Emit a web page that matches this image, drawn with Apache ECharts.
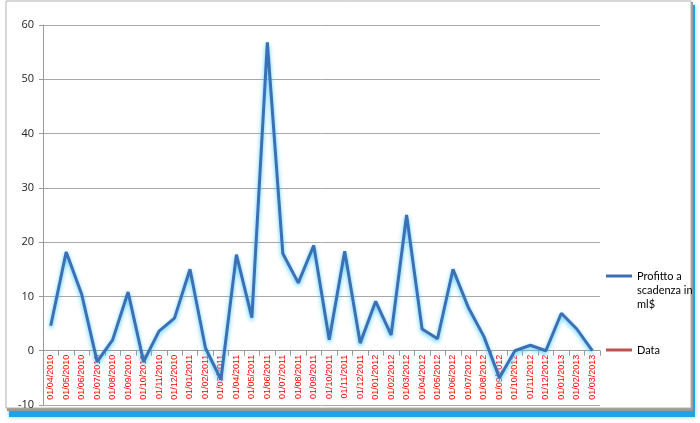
<!DOCTYPE html>
<html>
<head>
<meta charset="utf-8">
<script src="https://cdn.jsdelivr.net/npm/echarts@6/dist/echarts.min.js"></script>
<style>html,body{margin:0;padding:0;background:#fff}#c{width:700px;height:423px}</style>
</head>
<body>
<div id="c"></div>
<script>
var categories = ['01/04/2010','01/05/2010','01/06/2010','01/07/2010','01/08/2010','01/09/2010','01/10/2010','01/11/2010','01/12/2010',
  '01/01/2011','01/02/2011','01/03/2011','01/04/2011','01/05/2011','01/06/2011','01/07/2011','01/08/2011','01/09/2011','01/10/2011','01/11/2011','01/12/2011',
  '01/01/2012','01/02/2012','01/03/2012','01/04/2012','01/05/2012','01/06/2012','01/07/2012','01/08/2012','01/09/2012','01/10/2012','01/11/2012','01/12/2012',
  '01/01/2013','01/02/2013','01/03/2013'];
var profitto = [4.6, 18.2, 10.4, -2, 2.0, 10.8, -2, 3.6, 6.0,
  15.0, 0.5, -5.3, 17.7, 6.1, 56.8, 17.9, 12.5, 19.4, 2.0, 18.3, 1.4,
  9.1, 2.9, 25.0, 4.0, 2.2, 15.0, 7.9, 2.6, -5.0, 0.0, 1.0, 0.0,
  6.9, 4.0, 0.0];
var dataSeries = [];
var yTicks = {min: -10, max: 60, interval: 10};
var nameProfit = 'Profitto a scadenza in ml$';
var nameData = 'Data';

var gridTop = 25, gridBottom = 18, H = 423;
var plotH = H - gridTop - gridBottom;
// distance from bottom edge of plot to the zero line (axis crosses at 0, as in Excel)
var zeroOffset = plotH * (0 - yTicks.min) / (yTicks.max - yTicks.min);

var chart = echarts.init(document.getElementById('c'), null, {renderer: 'canvas'});
chart.setOption({
  animation: false,
  backgroundColor: '#fff',
  graphic: [
    {type: 'rect', z: -10, shape: {x: 9, y: 5, width: 686, height: 412},
      style: {fill: '#1ea2ea', shadowColor: 'rgba(30,162,234,0.6)', shadowBlur: 4}},
    {type: 'rect', z: -9, shape: {x: 7, y: 2, width: 686, height: 409},
      style: {fill: '#9a9a9a'}},
    {type: 'rect', z: -8, shape: {x: 6, y: 1, width: 685, height: 407},
      style: {fill: '#fff', stroke: '#b0b0b0', lineWidth: 1}}
  ],
  grid: {left: 43, right: 100, top: gridTop, bottom: gridBottom, containLabel: false, outerBoundsMode: 'none'},
  legend: [
    {data: [nameProfit], left: 606, top: 241, padding: 0, orient: 'vertical', itemWidth: 26, itemHeight: 3, itemGap: 0,
      icon: 'rect', selectedMode: false,
      formatter: function () { return '\n\nProfitto a\nscadenza in\nml$'; },
      textStyle: {fontFamily: 'Lato', fontSize: 11, color: '#000', lineHeight: 14}},
    {data: [nameData], left: 606, top: 343, padding: 0, orient: 'vertical', itemWidth: 26, itemHeight: 3,
      icon: 'rect', selectedMode: false,
      textStyle: {fontFamily: 'Lato', fontSize: 11, color: '#000', lineHeight: 14}}
  ],
  xAxis: {
    type: 'category', data: categories, boundaryGap: true,
    offset: -zeroOffset,
    axisLine: {onZero: false, lineStyle: {color: '#9a9a9a', width: 1}},
    axisTick: {show: true, length: 5, lineStyle: {color: '#9a9a9a'}},
    axisLabel: {rotate: 90, interval: 0, color: '#ff0000', fontSize: 9, fontFamily: 'Liberation Sans', margin: 4},
    splitLine: {show: false}
  },
  yAxis: {
    type: 'value', min: yTicks.min, max: yTicks.max, interval: yTicks.interval,
    axisLine: {show: true, lineStyle: {color: '#9a9a9a'}},
    axisTick: {show: true, length: 4, lineStyle: {color: '#9a9a9a'}},
    axisLabel: {color: '#222', fontSize: 11, fontFamily: 'Open Sans', margin: 9},
    splitLine: {lineStyle: {color: '#a8a8a8', width: 1}}
  },
  series: [
    {name: nameProfit, type: 'line', data: profitto, symbol: 'none', color: '#3c6fb4',
      lineStyle: {width: 3, color: '#3c6fb4', shadowColor: 'rgba(60,200,255,0.9)', shadowBlur: 4, shadowOffsetY: 2},
      z: 3},
    {name: nameData, type: 'line', data: dataSeries, symbol: 'none', color: '#c0504d',
      lineStyle: {width: 2, color: '#c0504d'}}
  ]
});
</script>
</body>
</html>
